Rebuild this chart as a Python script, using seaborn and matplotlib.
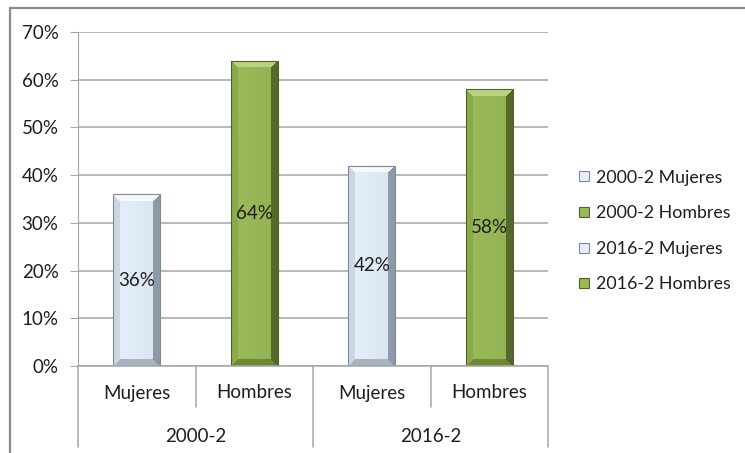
import numpy as np
import pandas as pd
import matplotlib
matplotlib.use("Agg")
import matplotlib.pyplot as plt
from matplotlib.lines import Line2D
from matplotlib.colors import to_rgb
import seaborn as sns

# data
periods = ["2000-2", "2000-2", "2016-2", "2016-2"]
sexes = ["Mujeres", "Hombres", "Mujeres", "Hombres"]
shares = [36, 64, 42, 58]
legend_labels = ["2000-2 Mujeres", "2000-2 Hombres", "2016-2 Mujeres", "2016-2 Hombres"]
y_ticks = [0, 10, 20, 30, 40, 50, 60, 70]

df = pd.DataFrame({"period": periods, "sex": sexes, "share": shares})
df["slot"] = [f"{p} {s}" for p, s in zip(periods, sexes)]

# face / bevel colours per sex
styles = {
    "Mujeres": dict(face="#E6F0FC", top="#F7FAFE", left="#CDD7E3", right="#8E99A8", bottom="#A9B4C2", edge="#7F8A99"),
    "Hombres": dict(face="#9BBB59", top="#B9D37F", left="#8BAA4B", right="#55692C", bottom="#6C8738", edge="#4F6228"),
}

sns.set_style("white")
plt.rcParams["font.family"] = ["Lato", "DejaVu Sans"]
FS = 13.5
TXT = "#1E1E1E"

W, H = 745, 453
fig = plt.figure(figsize=(W / 100, H / 100), dpi=100)
ax = fig.add_axes([78 / W, (H - 366) / H, 470 / W, 334 / H])

bp = sns.barplot(data=df, x="slot", y="share", hue="sex", order=df["slot"],
                 palette={k: v["face"] for k, v in styles.items()},
                 width=0.4, dodge=False, legend=False, ax=ax, zorder=3)

ax.set_ylim(0, 70)
ax.set_xlim(-0.5, 3.5)
ax.set_yticks(y_ticks)
ax.set_yticklabels([f"{t}%" for t in y_ticks], fontsize=FS, color=TXT)
ax.set_xticks([])
ax.set_xlabel("")
ax.set_ylabel("")
ax.grid(axis="y", color="#A6A6A6", lw=1.1, zorder=0)
for side in ["top", "right", "bottom"]:
    ax.spines[side].set_visible(False)
ax.spines["left"].set_color("#A6A6A6")
ax.tick_params(axis="y", length=6, color="#A6A6A6", pad=8, left=True)
ax.axhline(0, color="#A6A6A6", lw=1.1, zorder=4, clip_on=False)

# bevelled bar shading
bev = 7
for patch in bp.patches:
    x0, w, h = patch.get_x(), patch.get_width(), patch.get_height()
    if w == 0 or h == 0:
        continue
    idx = int(round(x0 + w / 2))
    sex, val = df["sex"][idx], df["share"][idx]
    st = styles[sex]
    bb = patch.get_window_extent()
    nx, ny = max(int(round(bb.width)), 2), max(int(round(bb.height)), 2)
    jj, ii = np.meshgrid(np.arange(nx) + 0.5, np.arange(ny) + 0.5)
    d_left, d_right, d_top, d_bot = jj, nx - jj, ii, ny - ii
    img = np.empty((ny, nx, 3))
    img[:] = to_rgb(st["face"])
    shade = 1 - 0.05 * (jj / nx)
    img *= shade[..., None]
    dmin = np.minimum.reduce([d_left, d_right, d_top, d_bot])
    inside = dmin < bev
    which = np.argmin(np.stack([d_top, d_left, d_right, d_bot]), axis=0)
    for k, key in enumerate(["top", "left", "right", "bottom"]):
        m = inside & (which == k)
        img[m] = to_rgb(st[key])
    im = ax.imshow(img, extent=(x0, x0 + w, 0, h), origin="upper",
                   aspect="auto", zorder=3.5, interpolation="bilinear")
    im.set_clip_path(patch)
    patch.set_edgecolor(st["edge"])
    patch.set_linewidth(0.8)
    patch.set_zorder(3.6)
    patch.set_facecolor("none")
    ax.text(x0 + w / 2, val / 2, f"{val}%", ha="center", va="center",
            fontsize=FS, color=TXT, zorder=5)

ax.set_xlim(-0.5, 3.5)
ax.set_ylim(0, 70)

# two-level category axis
trans = ax.get_xaxis_transform()
for i, s in enumerate(sexes):
    ax.text(i, -27 / 334, s, transform=trans, ha="center", va="center",
            fontsize=FS, color=TXT)
for g, p in enumerate(["2000-2", "2016-2"]):
    ax.text(g * 2 + 0.5, -71 / 334, p, transform=trans, ha="center", va="center",
            fontsize=FS, color=TXT)
for xb in [-0.5, 1.5, 3.5]:
    ax.plot([xb, xb], [0, -81 / 334], transform=trans, color="#A6A6A6", lw=1.1, clip_on=False)
for xb in [0.5, 2.5]:
    ax.plot([xb, xb], [0, -41 / 334], transform=trans, color="#A6A6A6", lw=1.1, clip_on=False)

# legend
handles = [Line2D([], [], marker="s", ls="none", markersize=7,
                  markerfacecolor=styles[s]["face"], markeredgecolor=styles[s]["edge"], markeredgewidth=0.8)
           for s in sexes]
fig.legend(handles, legend_labels, loc="center left", bbox_to_anchor=(562 / W, 1 - 231 / H),
           frameon=False, fontsize=12.8, handlelength=0.7, handletextpad=0.3,
           labelspacing=1.1, labelcolor=TXT)

# outer chart frame (top and left edges visible)
fig.add_artist(Line2D([10 / W, 1], [1 - 7.5 / H, 1 - 7.5 / H], color="#8C8C8C", lw=1.6))
fig.add_artist(Line2D([10 / W, 10 / W], [0, 1 - 7.5 / H], color="#8C8C8C", lw=1.6))

fig.savefig("out.png", dpi=100)
